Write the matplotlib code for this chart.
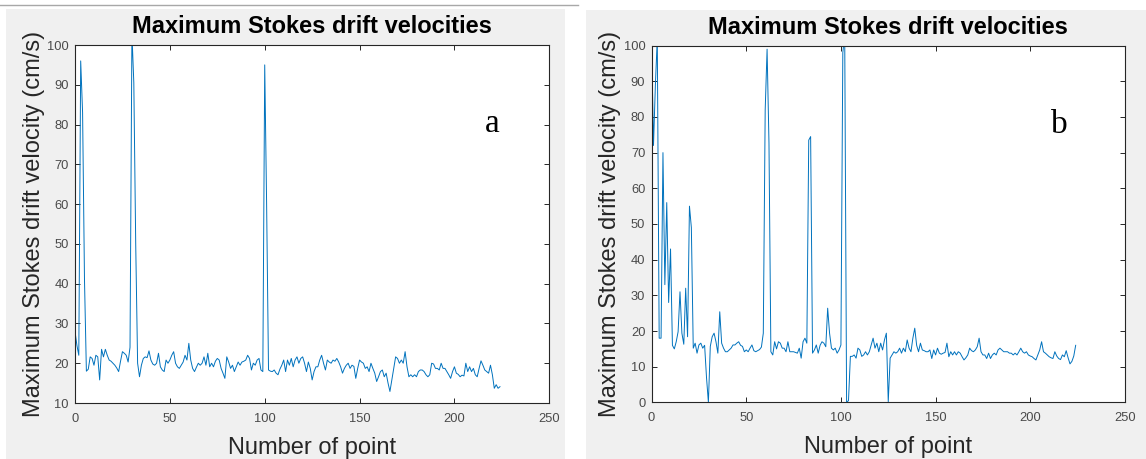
import numpy as np
import matplotlib
matplotlib.use("Agg")
import matplotlib.pyplot as plt
from matplotlib.patches import Rectangle
from matplotlib.lines import Line2D

# ---------------- data ----------------
title_text = "Maximum Stokes drift velocities"
xlabel_text = "Number of point"
ylabel_text = "Maximum Stokes drift velocity (cm/s)"
panel_letters = ["a", "b"]

xticks = [0, 50, 100, 150, 200, 250]
yticks_a = [10, 20, 30, 40, 50, 60, 70, 80, 90, 100]
yticks_b = [0, 10, 20, 30, 40, 50, 60, 70, 80, 90, 100]

series_a = [
    28, 24.5, 22, 96, 83, 41, 18, 18.5, 21.6, 21.2,
    19.5, 22, 21.6, 15.8, 23.5, 21.6, 23.5, 22, 20.8, 20.5,
    20, 19.5, 18.8, 17.9, 20.5, 22.9, 22.5, 22, 20.3, 24,
    103, 90.5, 50, 20, 16.6, 19.5, 21.2, 21.6, 21.4, 23.1,
    20.8, 19.8, 19.5, 20, 22.5, 19.1, 18.3, 17.9, 20.8, 20,
    20.8, 22, 22.9, 20, 19.1, 18.7, 19.5, 20.3, 22, 20.8,
    25, 20.8, 18.7, 17.9, 19, 20, 19.5, 20, 21.6, 19.5,
    22.5, 19.1, 20, 19.1, 20.5, 21.2, 20.8, 18.7, 17.5, 16.2,
    21.6, 20.3, 18.7, 19.5, 17.9, 19.1, 20.3, 19.5, 20.3, 20.5,
    20.8, 22, 21.2, 18.3, 20, 19.5, 20.8, 21.2, 18.3, 17.9,
    95, 60, 18.3, 18, 17.9, 18.3, 17.5, 17.1, 18.5, 19.5,
    20.8, 17.9, 20.8, 19.5, 21.2, 19.1, 20.8, 21.6, 20, 21.2,
    21.6, 20, 17.9, 20.3, 18.7, 15.8, 17.9, 19.1, 19.1, 20.8,
    22, 20, 18.3, 20.8, 20.3, 20, 20.8, 20.5, 21.2, 20.3,
    19.1, 17.5, 18.7, 19.5, 20, 18.7, 19.5, 19.2, 16.2, 18.7,
    20.8, 20.3, 20, 18.7, 19.1, 17.9, 20, 18.7, 17.5, 15.4,
    16.6, 17.9, 18.3, 16.6, 17.5, 15, 12.9, 15.8, 18.7, 21.6,
    21.2, 20, 20.8, 20, 22.9, 19.1, 16.6, 17.1, 16.6, 17.1,
    16.6, 17.9, 18.3, 18.3, 17.9, 17.1, 16.6, 17.1, 20, 19.8,
    18.7, 18.7, 18.3, 20, 18.7, 18.7, 17.9, 17.1, 16.2, 17.9,
    19.1, 17.5, 17.2, 16.6, 17, 16.8, 20, 17.9, 19.1, 17.9,
    18.7, 17.1, 16.6, 18.7, 20.6, 19.5, 18.3, 17.9, 17.5, 19.5,
    17.1, 13.7, 14.6, 13.7, 14.1,
]

series_b = [
    101, 72, 89, 102, 18, 18, 70, 33, 56, 28,
    43, 16, 15, 17, 19.8, 31, 19.4, 16.3, 32, 18.4,
    55, 49, 15.2, 16.6, 13.8, 16.1, 16.6, 15.2, 16, 7,
    0, 15.7, 18.4, 19.4, 17, 13.8, 25.4, 16.6, 15.2, 14.2,
    14.2, 14.7, 15.2, 16.1, 16.1, 16.6, 17, 16, 15.7, 14.2,
    14.7, 14.2, 15.2, 16.1, 14.5, 14.2, 14.5, 14.8, 15.5, 19.4,
    82, 99, 72.6, 14.2, 13.3, 17, 15, 17, 16.6, 15.2,
    15.2, 14.2, 17, 14.2, 14.2, 14.2, 14, 13.8, 15.2, 12.4,
    17, 18, 16.6, 73.5, 74.5, 13.8, 14.7, 16.1, 13.8, 16,
    17, 16.6, 15.6, 26.4, 19.4, 15.2, 14.7, 15.2, 13.8, 14.7,
    16.1, 98, 103, 0, 0.5, 12.9, 12.9, 13.3, 12.4, 15.2,
    14.7, 12.9, 13.3, 14.2, 13.3, 14.2, 16.1, 18, 15.2, 16.6,
    14.2, 16.6, 14.7, 17.5, 19.4, 0.2, 12.4, 13.3, 14.2, 13.8,
    14.2, 15.2, 13.8, 15.2, 14.2, 17.5, 15.2, 14.2, 18, 20.8,
    16, 14.2, 16.6, 14.7, 14.5, 14.2, 14.2, 14.7, 12.3, 14.7,
    13.3, 15.2, 13.8, 13.5, 13.8, 14, 16.6, 12.8, 14.2, 13.3,
    14.2, 13.3, 14.2, 13.8, 12.8, 11.9, 12.5, 13.3, 15.2, 14.5,
    14.2, 14.7, 15.6, 18, 14.2, 13.3, 13.3, 12.3, 13.8, 12.3,
    13.3, 13.8, 13.3, 14.7, 15.2, 14.7, 14.2, 14.2, 14.2, 13.8,
    13.8, 13.3, 13.8, 13.3, 14.2, 15.2, 14.2, 13.8, 14.2, 13.3,
    13, 12.8, 12.3, 11.9, 13.3, 14.7, 17, 14.2, 13.8, 13.3,
    12.8, 12.5, 12.3, 14.2, 13, 12.3, 12, 13.3, 12.8, 14.5,
    12.5, 10.8, 11.5, 13, 16,
]

# ---------------- style ----------------
plt.rcParams['font.family'] = ['Liberation Sans', 'DejaVu Sans']
line_color = '#0072BD'
axis_color = '#262626'
panel_gray = '#f0f0f0'

W, H = 1146, 459
fig = plt.figure(figsize=(W / 100, H / 100), dpi=100)
fig.patch.set_facecolor('white')

# gray figure panels (MATLAB figure backgrounds), drawn behind the axes
fig.patches.append(Rectangle((6 / W, 0), 559 / W, 450 / H, transform=fig.transFigure,
                             facecolor=panel_gray, edgecolor='none', zorder=-2))
fig.patches.append(Rectangle((586 / W, 0), 560 / W, 449 / H, transform=fig.transFigure,
                             facecolor=panel_gray, edgecolor='none', zorder=-2))
fig.lines.append(Line2D([0, 578 / W], [1 - 4.5 / H, 1 - 4.5 / H], transform=fig.transFigure,
                        color='#a8a8a8', lw=1.0, zorder=-2))

axes_specs = [
    dict(rect=[75 / W, 56 / H, 474.3 / W, 358 / H], data=series_a, ylim=(10, 100),
         yticks=yticks_a, letter=panel_letters[0], lpos=(220, 78.2)),
    dict(rect=[651.6 / W, 56.6 / H, 473.3 / W, 356.8 / H], data=series_b, ylim=(0, 100),
         yticks=yticks_b, letter=panel_letters[1], lpos=(215.2, 75.5)),
]

for spec in axes_specs:
    ax = fig.add_axes(spec['rect'])
    ax.set_zorder(1)
    ax.set_facecolor('white')
    y = np.array(spec['data'], dtype=float)
    x = np.arange(len(y))
    ax.plot(x, y, color=line_color, lw=0.7)
    ax.set_xlim(0, 250)
    ax.set_ylim(*spec['ylim'])
    ax.set_xticks(xticks)
    ax.set_yticks(spec['yticks'])
    for s in ax.spines.values():
        s.set_color(axis_color)
        s.set_linewidth(0.8)
    ax.tick_params(direction='in', length=3.5, width=0.7, color=axis_color,
                   labelcolor='#4a4a4a', labelsize=9.3, top=True, right=True, pad=4.5)
    ax.tick_params(axis='x', pad=7)
    ax.set_title(title_text, fontsize=17, fontweight='bold', pad=8.5, color='black')
    ax.set_xlabel(xlabel_text, fontsize=17, color='#262626')
    ax.xaxis.set_label_coords(0.5, -0.094)
    ax.set_ylabel(ylabel_text, fontsize=17, color='#262626')
    ax.yaxis.set_label_coords(-0.064, 0.5)
    ax.text(spec['lpos'][0], spec['lpos'][1], spec['letter'], fontsize=24,
            family=['Liberation Serif', 'DejaVu Serif'], ha='center', va='baseline',
            color='black')

fig.savefig('out.png', dpi=100, facecolor='white')
